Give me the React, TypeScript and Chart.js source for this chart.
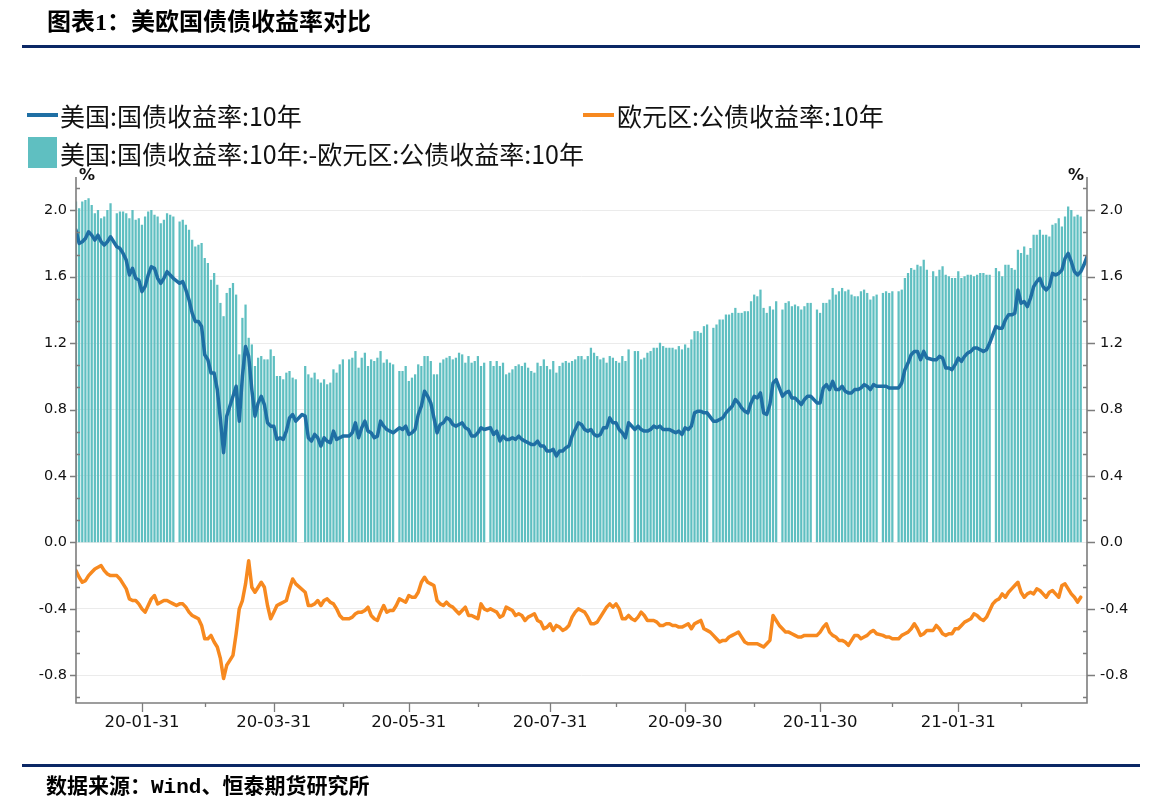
import React, { useEffect, useRef } from "react";
import { Chart, registerables } from "chart.js";

Chart.register(...registerables);

// ---------- text ----------
const TITLE = "图表1：美欧国债债收益率对比";
const SOURCE = "数据来源：Wind、恒泰期货研究所";
const US_NAME = "美国:国债收益率:10年";
const EU_NAME = "欧元区:公债收益率:10年";
const SPREAD_NAME = "美国:国债收益率:10年:-欧元区:公债收益率:10年";

// ---------- categories: trading weekdays ----------
const START_DATE = "2020-01-02";
const END_DATE = "2021-03-29";

// ---------- series values (%), one value per weekday, null = no quote ----------
const us2020Jan = [1.88, 1.80, 1.81, 1.83, 1.87, 1.85, 1.82, 1.85, 1.81, 1.79, 1.81, 1.84, null, 1.78, 1.77, 1.74, 1.70, 1.61, 1.65, 1.59, 1.58, 1.51];
const us2020Feb = [1.54, 1.61, 1.66, 1.65, 1.59, 1.56, 1.59, 1.63, 1.61, 1.59, null, 1.56, 1.57, 1.52, 1.46, 1.38, 1.33, 1.33, 1.30, 1.13];
const us2020Mar = [1.10, 1.02, 1.02, 0.92, 0.74, 0.54, 0.76, 0.82, 0.88, 0.94, 0.73, 1.00, 1.18, 1.12, 0.92, 0.76, 0.84, 0.88, 0.83, 0.72, 0.70, 0.70];
const us2020Apr = [0.62, 0.63, 0.62, 0.67, 0.75, 0.77, 0.73, null, 0.77, 0.76, 0.63, 0.61, 0.65, 0.63, 0.58, 0.63, 0.61, 0.60, 0.67, 0.62, 0.63, 0.64];
const us2020May = [0.64, 0.64, 0.66, 0.72, 0.63, 0.69, 0.73, 0.67, 0.66, 0.63, 0.64, 0.73, 0.70, 0.68, 0.67, 0.66, null, 0.69, 0.68, 0.70, 0.65];
const us2020Jun = [0.66, 0.68, 0.77, 0.82, 0.91, 0.88, 0.84, 0.75, 0.66, 0.71, 0.72, 0.75, 0.74, 0.71, 0.70, 0.71, 0.72, 0.69, 0.68, 0.64, 0.64, 0.66];
const us2020Jul = [0.69, 0.68, null, 0.69, 0.65, 0.67, 0.61, 0.64, 0.62, 0.62, 0.63, 0.62, 0.64, 0.62, 0.61, 0.60, 0.59, 0.59, 0.61, 0.58, 0.58, 0.55, 0.55];
const us2020Aug = [0.56, 0.52, 0.55, 0.55, 0.57, 0.58, 0.64, 0.68, 0.72, 0.71, 0.68, 0.67, 0.68, 0.65, 0.64, 0.65, 0.69, 0.69, 0.75, 0.72, 0.72];
const us2020Sep = [0.68, 0.66, 0.63, 0.72, null, 0.68, 0.70, 0.68, 0.67, 0.67, 0.68, 0.70, 0.69, 0.70, 0.68, 0.68, 0.68, 0.67, 0.66, 0.67, 0.65, 0.69];
const us2020Oct = [0.68, 0.70, 0.78, 0.79, 0.79, 0.78, 0.78, null, 0.73, 0.73, 0.74, 0.75, 0.78, 0.80, 0.82, 0.86, 0.84, 0.81, 0.79, 0.78, 0.84, 0.88];
const us2020Nov = [0.87, 0.90, 0.78, 0.77, 0.83, 0.96, 0.98, null, 0.88, 0.90, 0.91, 0.87, 0.87, 0.85, 0.83, 0.86, 0.88, 0.88, null, 0.84, 0.84];
const us2020Dec = [0.93, 0.95, 0.92, 0.97, 0.92, 0.92, 0.94, 0.91, 0.90, 0.90, 0.92, 0.92, 0.93, 0.95, 0.94, 0.92, 0.95, 0.94, null, 0.94, 0.94, 0.93, 0.93];
const us2021Jan = [null, 0.93, 0.96, 1.04, 1.08, 1.13, 1.15, 1.15, 1.10, 1.15, 1.11, null, 1.10, 1.10, 1.12, 1.11, 1.05, 1.05, 1.04, 1.07, 1.11];
const us2021Feb = [1.09, 1.12, 1.14, 1.15, 1.17, 1.17, 1.16, 1.15, 1.16, 1.20, null, 1.30, 1.29, 1.29, 1.34, 1.37, 1.37, 1.38, 1.52, 1.44];
const us2021Mar = [1.45, 1.42, 1.47, 1.54, 1.57, 1.59, 1.54, 1.52, 1.54, 1.62, 1.61, 1.62, 1.64, 1.71, 1.74, 1.69, 1.63, 1.61, 1.63, 1.67, 1.72];

const eu2020Jan = [-0.17, -0.21, -0.24, -0.23, -0.20, -0.18, -0.16, -0.15, -0.14, -0.17, -0.19, -0.20, -0.20, -0.20, -0.22, -0.25, -0.28, -0.34, -0.35, -0.35, -0.37, -0.40];
const eu2020Feb = [-0.42, -0.38, -0.34, -0.32, -0.37, -0.36, -0.35, -0.35, -0.36, -0.37, -0.38, -0.37, -0.37, -0.39, -0.42, -0.44, -0.45, -0.46, -0.50, -0.58];
const eu2020Mar = [-0.58, -0.56, -0.60, -0.63, -0.70, -0.82, -0.74, -0.71, -0.68, -0.55, -0.40, -0.35, -0.25, -0.11, -0.27, -0.30, -0.27, -0.24, -0.27, -0.38, -0.46, -0.42];
const eu2020Apr = [-0.38, -0.37, -0.36, -0.35, -0.28, -0.22, -0.25, null, null, -0.30, -0.38, -0.38, -0.37, -0.35, -0.38, -0.35, -0.34, -0.36, -0.37, -0.40, -0.44, -0.46];
const eu2020May = [null, -0.46, -0.45, -0.43, -0.42, -0.42, -0.41, -0.39, -0.44, -0.46, -0.47, -0.42, -0.38, -0.42, -0.41, -0.41, -0.38, -0.34, -0.35, -0.36, -0.32];
const eu2020Jun = [-0.33, -0.33, -0.30, -0.24, -0.21, -0.24, -0.25, -0.26, -0.35, -0.37, -0.38, -0.36, -0.38, -0.39, -0.41, -0.43, -0.41, -0.39, -0.44, -0.44, -0.45, -0.46];
const eu2020Jul = [-0.37, -0.40, -0.41, -0.40, -0.41, -0.42, -0.45, -0.44, -0.39, -0.40, -0.41, -0.44, -0.43, -0.44, -0.47, -0.45, -0.44, -0.43, -0.47, -0.48, -0.52, -0.51, -0.49];
const eu2020Aug = [-0.53, -0.50, -0.51, -0.53, -0.52, -0.50, -0.45, -0.42, -0.40, -0.41, -0.42, -0.45, -0.49, -0.49, -0.48, -0.45, -0.42, -0.39, -0.37, -0.39, -0.37];
const eu2020Sep = [-0.40, -0.46, -0.46, -0.44, -0.46, -0.47, -0.45, -0.42, -0.44, -0.47, -0.47, -0.47, -0.48, -0.50, -0.50, -0.49, -0.49, -0.50, -0.50, -0.51, -0.51, -0.50];
const eu2020Oct = [-0.49, -0.52, -0.49, -0.48, -0.47, -0.52, -0.53, -0.54, -0.56, -0.58, -0.60, -0.59, -0.59, -0.57, -0.56, -0.55, -0.54, -0.57, -0.60, -0.61, -0.61, -0.61];
const eu2020Nov = [-0.61, -0.62, -0.63, -0.61, -0.59, -0.44, -0.47, -0.50, -0.52, -0.54, -0.54, -0.55, -0.56, -0.57, -0.57, -0.56, -0.56, -0.56, -0.56, -0.56, -0.54];
const eu2020Dec = [-0.51, -0.49, -0.54, -0.56, -0.57, -0.59, -0.59, -0.60, -0.62, -0.59, -0.56, -0.56, -0.58, -0.57, -0.56, -0.54, -0.53, -0.55, null, -0.56, -0.57, -0.57, -0.58];
const eu2021Jan = [null, -0.58, -0.56, -0.55, -0.54, -0.52, -0.49, -0.52, -0.56, -0.55, -0.53, -0.53, -0.53, -0.50, -0.52, -0.55, -0.56, -0.55, -0.55, -0.52, -0.52];
const eu2021Feb = [-0.50, -0.48, -0.47, -0.46, -0.43, -0.44, -0.46, -0.47, -0.45, -0.41, -0.37, -0.35, -0.34, -0.31, -0.33, -0.30, -0.28, -0.26, -0.24, -0.30];
const eu2021Mar = [-0.33, -0.31, -0.30, -0.31, -0.28, -0.29, -0.31, -0.33, -0.30, -0.29, -0.31, -0.33, -0.26, -0.25, -0.28, -0.31, -0.33, -0.36, -0.33, null, null];

// ---------- axis values ----------
const Y_TICKS = [-0.8, -0.4, 0.0, 0.4, 0.8, 1.2, 1.6, 2.0];
const Y_MIN = -0.967;
const Y_MAX = 2.2;
const MAJOR_MONTHS = [1, 3, 5, 7, 9, 11];

// ---------- styles ----------
const US_COLOR = "#1f6fa4";
const EU_COLOR = "#f7891f";
const BAR_COLOR = "#5fbfc1";
const AXIS_COLOR = "#7d7d7d";
const RULE_COLOR = "#0b2765";
const TICK_FONT = '"DejaVu Sans", sans-serif';
const CJK_FONT = '"Noto Sans CJK SC", "Noto Sans", sans-serif';

function buildWeekdays(start: string, end: string): string[] {
  const out: string[] = [];
  const d = new Date(start + "T00:00:00Z");
  const e = new Date(end + "T00:00:00Z");
  while (d.getTime() <= e.getTime()) {
    const wd = d.getUTCDay();
    if (wd !== 0 && wd !== 6) out.push(d.toISOString().slice(0, 10));
    d.setUTCDate(d.getUTCDate() + 1);
  }
  return out;
}

const dates = buildWeekdays(START_DATE, END_DATE);
const usValues: (number | null)[] = [
  us2020Jan, us2020Feb, us2020Mar, us2020Apr, us2020May, us2020Jun, us2020Jul, us2020Aug,
  us2020Sep, us2020Oct, us2020Nov, us2020Dec, us2021Jan, us2021Feb, us2021Mar,
].flat();
const euValues: (number | null)[] = [
  eu2020Jan, eu2020Feb, eu2020Mar, eu2020Apr, eu2020May, eu2020Jun, eu2020Jul, eu2020Aug,
  eu2020Sep, eu2020Oct, eu2020Nov, eu2020Dec, eu2021Jan, eu2021Feb, eu2021Mar,
].flat();

type MonthTick = { idx: number; label: string; major: boolean };
function monthEndTicks(ds: string[]): MonthTick[] {
  const res: MonthTick[] = [];
  for (let i = 0; i < ds.length - 1; i++) {
    if (ds[i].slice(0, 7) !== ds[i + 1].slice(0, 7)) {
      const y = +ds[i].slice(0, 4);
      const m = +ds[i].slice(5, 7);
      const last = new Date(Date.UTC(y, m, 0)).getUTCDate();
      res.push({
        idx: i,
        label: `${ds[i].slice(2, 4)}-${ds[i].slice(5, 7)}-${String(last).padStart(2, "0")}`,
        major: MAJOR_MONTHS.includes(m),
      });
    }
  }
  return res;
}

const monthTicks = monthEndTicks(dates);
const majorTicks = monthTicks.filter((t) => t.major);

const wireAxesPlugin = {
  id: "wireAxes",
  afterDraw(chart: any) {
    const { ctx, chartArea: a, scales } = chart;
    const ys = scales.y;
    const xs = scales.x;
    ctx.save();
    ctx.strokeStyle = AXIS_COLOR;
    ctx.lineWidth = 1.6;
    ctx.beginPath();
    ctx.moveTo(a.left, a.top);
    ctx.lineTo(a.left, a.bottom);
    ctx.lineTo(a.right, a.bottom);
    ctx.lineTo(a.right, a.top);
    ctx.stroke();

    ctx.lineWidth = 1.3;
    ctx.beginPath();
    for (const v of Y_TICKS) {
      const y = Math.round(ys.getPixelForValue(v)) + 0.5;
      ctx.moveTo(a.left - 6, y);
      ctx.lineTo(a.left, y);
      ctx.moveTo(a.right, y);
      ctx.lineTo(a.right + 8, y);
    }
    const step = 0.4 / 3;
    for (let k = Math.ceil(Y_MIN / step); k * step <= Y_MAX + 1e-9; k++) {
      if (k % 3 === 0) continue;
      const y = Math.round(ys.getPixelForValue(k * step)) + 0.5;
      ctx.moveTo(a.left, y);
      ctx.lineTo(a.left + 4, y);
      ctx.moveTo(a.right - 4, y);
      ctx.lineTo(a.right, y);
    }
    for (const t of monthTicks) {
      const x = Math.round(xs.getPixelForValue(t.idx)) + 0.5;
      ctx.moveTo(x, a.bottom);
      ctx.lineTo(x, a.bottom + (t.major ? 9 : 4));
    }
    ctx.stroke();
    ctx.restore();
  },
};

export default function App() {
  const canvasRef = useRef<HTMLCanvasElement | null>(null);

  useEffect(() => {
    const canvas = canvasRef.current;
    if (!canvas) return;

    const usPts = dates.map((_, i) => ({ x: i, y: usValues[i] ?? null }));
    const euPts = dates.map((_, i) => ({ x: i, y: euValues[i] ?? null }));
    const spreadPts = dates.map((_, i) => {
      const u = usValues[i];
      const e = euValues[i];
      return { x: i, y: u == null || e == null ? null : Math.round((u - e) * 100) / 100 };
    });
    const labelMap: Record<number, string> = {};
    majorTicks.forEach((t) => (labelMap[t.idx] = t.label));

    const chart = new Chart(canvas, {
      type: "bar",
      data: {
        datasets: [
          {
            type: "line",
            label: US_NAME,
            data: usPts,
            borderColor: US_COLOR,
            backgroundColor: US_COLOR,
            borderWidth: 3.5,
            pointRadius: 0,
            tension: 0,
            spanGaps: true,
            borderJoinStyle: "round",
            borderCapStyle: "round",
            yAxisID: "y2",
            order: 1,
          },
          {
            type: "line",
            label: EU_NAME,
            data: euPts,
            borderColor: EU_COLOR,
            backgroundColor: EU_COLOR,
            borderWidth: 3.5,
            pointRadius: 0,
            tension: 0,
            spanGaps: true,
            borderJoinStyle: "round",
            borderCapStyle: "round",
            yAxisID: "y2",
            order: 1,
          },
          {
            type: "bar",
            label: SPREAD_NAME,
            data: spreadPts,
            backgroundColor: BAR_COLOR,
            barThickness: 1.6,
            yAxisID: "y",
            order: 2,
          },
        ],
      } as any,
      options: {
        responsive: false,
        animation: false,
        devicePixelRatio: 1,
        layout: { padding: { top: 177, left: 0, right: 0, bottom: 0 } },
        plugins: { legend: { display: false }, title: { display: false }, tooltip: { enabled: false } },
        scales: {
          x: {
            type: "linear",
            min: 0,
            max: dates.length - 1,
            offset: false,
            grid: { display: false, drawTicks: false },
            border: { display: false },
            afterBuildTicks: (s: any) => {
              s.ticks = majorTicks.map((t) => ({ value: t.idx }));
            },
            afterFit: (s: any) => {
              s.height = 99;
            },
            ticks: {
              autoSkip: false,
              maxRotation: 0,
              padding: 10,
              color: "#111",
              font: { family: TICK_FONT, size: 16.5 },
              callback: (v: any) => labelMap[v] ?? "",
            },
          },
          y: {
            type: "linear",
            position: "left",
            min: Y_MIN,
            max: Y_MAX,
            grid: { color: "#ebebeb", lineWidth: 1, drawTicks: false },
            border: { display: false },
            afterBuildTicks: (s: any) => {
              s.ticks = Y_TICKS.map((v) => ({ value: v }));
            },
            afterFit: (s: any) => {
              s.width = 76;
            },
            ticks: {
              padding: 9,
              color: "#111",
              font: { family: TICK_FONT, size: 14.5 },
              callback: (v: any) => Number(v).toFixed(1),
            },
          },
          y2: {
            type: "linear",
            position: "right",
            min: Y_MIN,
            max: Y_MAX,
            grid: { display: false, drawTicks: false },
            border: { display: false },
            afterBuildTicks: (s: any) => {
              s.ticks = Y_TICKS.map((v) => ({ value: v }));
            },
            afterFit: (s: any) => {
              s.width = 66;
            },
            ticks: {
              padding: 13,
              color: "#111",
              font: { family: TICK_FONT, size: 14.5 },
              callback: (v: any) => Number(v).toFixed(1),
            },
          },
        },
      } as any,
      plugins: [wireAxesPlugin],
    });

    return () => chart.destroy();
  }, []);

  const abs = (s: React.CSSProperties): React.CSSProperties => ({ position: "absolute", whiteSpace: "nowrap", ...s });

  return (
    <div style={{ position: "absolute", left: 0, top: 0, width: 1153, height: 802, background: "#fff", overflow: "hidden" }}>
      <canvas ref={canvasRef} width={1153} height={802} style={abs({ left: 0, top: 0, width: 1153, height: 802 })} />

      <div style={abs({ left: 47, top: 7, fontFamily: '"Liberation Serif", "Noto Sans CJK SC", serif', fontWeight: 700, fontSize: 24, lineHeight: "30px", color: "#000" })}>
        {TITLE}
      </div>
      <div style={abs({ left: 22, top: 45, width: 1118, height: 3, background: RULE_COLOR })} />

      {/* legend */}
      <div style={abs({ left: 27, top: 113, width: 31, height: 4, background: US_COLOR })} />
      <div style={abs({ left: 60, top: 100, fontFamily: CJK_FONT, fontSize: 25, lineHeight: "30px", color: "#111" })}>{US_NAME}</div>
      <div style={abs({ left: 583, top: 113, width: 31, height: 4, background: EU_COLOR })} />
      <div style={abs({ left: 617, top: 100, fontFamily: CJK_FONT, fontSize: 25, lineHeight: "30px", color: "#111" })}>{EU_NAME}</div>
      <div style={abs({ left: 28, top: 137, width: 29, height: 31, background: BAR_COLOR })} />
      <div style={abs({ left: 60, top: 138, fontFamily: CJK_FONT, fontSize: 25, lineHeight: "30px", color: "#111" })}>{SPREAD_NAME}</div>

      {/* unit labels */}
      <div style={abs({ left: 79, top: 165, fontFamily: TICK_FONT, fontSize: 16, fontWeight: 700, lineHeight: "20px", color: "#111" })}>%</div>
      <div style={abs({ left: 1068, top: 165, fontFamily: TICK_FONT, fontSize: 16, fontWeight: 700, lineHeight: "20px", color: "#111" })}>%</div>

      <div style={abs({ left: 22, top: 764, width: 1118, height: 3, background: RULE_COLOR })} />
      <div style={abs({ left: 46, top: 774, fontFamily: '"Liberation Mono", "Noto Sans CJK SC", monospace', fontWeight: 700, fontSize: 21, lineHeight: "28px", color: "#000" })}>
        {SOURCE}
      </div>
    </div>
  );
}
